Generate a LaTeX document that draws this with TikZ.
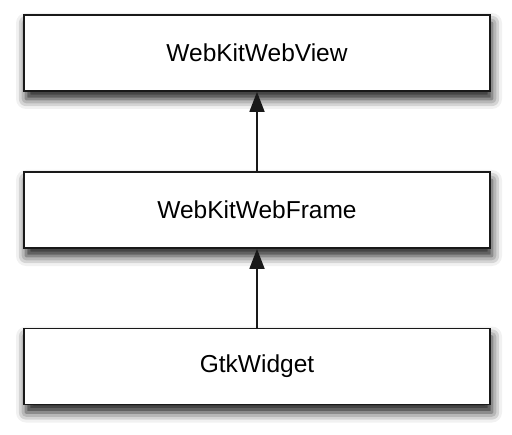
\documentclass[tikz,border=0pt]{standalone}
\usepackage{fontspec}
\setmainfont{Liberation Sans}
\usetikzlibrary{arrows.meta,shadows.blur}
\begin{document}
\begin{tikzpicture}[x=1pt,y=-1pt,
  classbox/.style={draw=black!90, line width=1.8pt, fill=white,
    minimum width=466pt, minimum height=76pt, inner sep=0pt,
    font=\fontsize{24.5}{29}\selectfont,
    blur shadow={shadow xshift=2pt, shadow yshift=-8pt,
      shadow blur radius=10pt, shadow opacity=90}},
  inherit/.style={line width=1.8pt, draw=black!90,
    -{Triangle[length=20pt,width=15pt]}}]
  \useasboundingbox (0,0) rectangle (512,435);
  \node[classbox] (view)  at (257,53)    {WebKitWebView};
  \node[classbox] (frame) at (257,210)   {WebKitWebFrame};
  \node[classbox] (gtk)   at (257,366.5) {GtkWidget};
  \draw[inherit] (frame.north) -- (view.south);
  \draw[inherit] (gtk.north) -- (frame.south);
\end{tikzpicture}
\end{document}
